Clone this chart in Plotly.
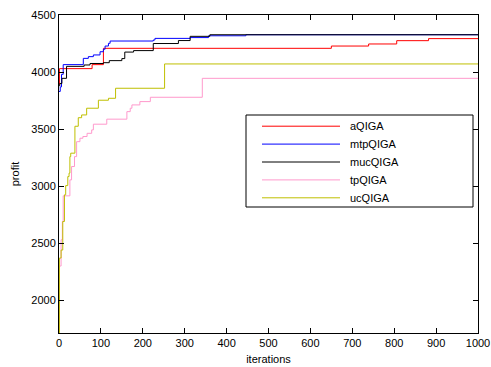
import plotly.graph_objects as go

# Step-change points (iteration, profit)
a_iter = [0, 1, 79, 106, 650, 739, 806, 882, 1000]
a_val = [3890, 4030, 4065, 4208, 4228, 4246, 4275, 4293, 4293]

mtp_iter = [0, 3, 6, 10, 58, 70, 82, 98, 106, 110, 118, 122, 225, 229, 313, 357, 446, 1000]
mtp_val = [3830, 3870, 3980, 4065, 4120, 4135, 4150, 4178, 4200, 4228, 4252, 4272, 4281, 4295, 4302, 4318, 4327, 4327]

muc_iter = [0, 2, 7, 18, 60, 74, 106, 120, 150, 157, 178, 225, 285, 313, 360, 1000]
muc_val = [3880, 3900, 3945, 4050, 4062, 4075, 4082, 4100, 4118, 4175, 4188, 4250, 4276, 4313, 4327, 4327]

tp_iter = [0, 1, 5, 8, 10, 26, 30, 37, 42, 45, 50, 57, 67, 78, 82, 114, 162, 170, 174, 193, 218, 342, 1000]
tp_val = [1650, 2300, 2530, 2690, 2915, 3055, 3172, 3259, 3390, 3390, 3420, 3435, 3463, 3493, 3543, 3587, 3653, 3683, 3712, 3741, 3779, 3945, 3945]

uc_iter = [0, 1, 5, 9, 13, 16, 21, 24, 26, 28, 38, 46, 54, 66, 94, 118, 135, 252, 1000]
uc_val = [1680, 2370, 2440, 2690, 2924, 3005, 3084, 3114, 3259, 3289, 3525, 3600, 3624, 3683, 3753, 3770, 3858, 4071, 4071]

names = ["aQIGA", "mtpQIGA", "mucQIGA", "tpQIGA", "ucQIGA"]
colors = ["#ff0000", "#0000ff", "#000000", "#ff99cc", "#bfbf00"]
series = [(a_iter, a_val), (mtp_iter, mtp_val), (muc_iter, muc_val), (tp_iter, tp_val), (uc_iter, uc_val)]

x_ticks = list(range(0, 1001, 100))
y_ticks = [2000, 2500, 3000, 3500, 4000, 4500]

fig = go.Figure()
for name, col, (xs, ys) in zip(names, colors, series):
    fig.add_trace(go.Scatter(x=xs, y=ys, mode="lines", name=name, showlegend=False,
                             line=dict(color=col, width=1, shape="hv")))

font = dict(family="Liberation Sans, Arial, sans-serif", size=11, color="black")
axis_common = dict(showline=True, linecolor="black", linewidth=1, mirror="ticks",
                   ticks="inside", ticklen=5, tickcolor="black", showgrid=False,
                   zeroline=False, tickfont=font)

W, H = 491, 367
ml, mr, mt, mb = 59, 13, 15, 34
pw, ph = W - ml - mr, H - mt - mb

def px2paper_x(p):
    return (p - ml) / pw

def px2paper_y(p):
    return (H - mb - p) / ph

# legend layout (figure pixels)
bx0, bx1, by0, by1 = 246, 473, 115, 207
row0, row_step = 126.2, 17.9
lx0, lx1, tx = 262, 340, 348

shapes = [dict(type="rect", xref="paper", yref="paper", layer="above",
               x0=px2paper_x(bx0), x1=px2paper_x(bx1),
               y0=px2paper_y(by1), y1=px2paper_y(by0),
               line=dict(color="black", width=1), fillcolor="white")]
annotations = []
for i, (name, col) in enumerate(zip(names, colors)):
    yy = px2paper_y(row0 + i * row_step)
    shapes.append(dict(type="line", xref="paper", yref="paper", layer="above",
                       x0=px2paper_x(lx0), x1=px2paper_x(lx1), y0=yy, y1=yy,
                       line=dict(color=col, width=1)))
    annotations.append(dict(text=name, xref="paper", yref="paper", x=px2paper_x(tx), y=yy,
                            xanchor="left", yanchor="middle", showarrow=False, font=font))

fig.update_layout(
    width=W, height=H,
    margin=dict(l=ml, r=mr, t=mt, b=mb, autoexpand=False),
    paper_bgcolor="white", plot_bgcolor="white",
    font=font,
    xaxis=dict(range=[0, 1000], tickvals=x_ticks, **axis_common,
               title=dict(text="iterations", font=font, standoff=7)),
    yaxis=dict(range=[1713, 4500], tickvals=y_ticks, **axis_common,
               title=dict(text="profit", font=font, standoff=9)),
    shapes=shapes,
    annotations=annotations,
    showlegend=False,
)
fig.write_html("out.html", config={"displayModeBar": False},
               post_script="document.body.style.margin='0';document.body.style.padding='0';")
